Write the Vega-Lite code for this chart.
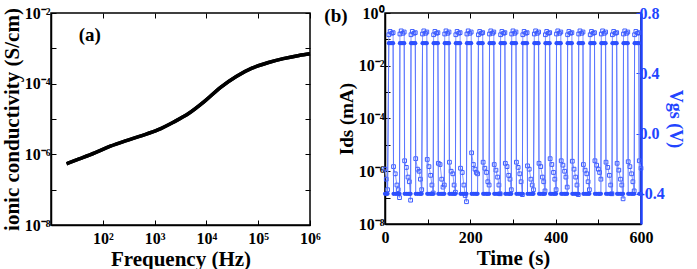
{
"$schema":"https://vega.github.io/schema/vega-lite/v6.json",
"padding":{"left":0,"top":4,"right":0,"bottom":0},
"spacing":75,
"bounds":"flush",
"config":{
 "font":"Liberation Serif",
 "view":{"stroke":"black","strokeWidth":1.5},
 "axis":{"labelFont":"Liberation Serif","labelFontWeight":"bold","labelFontSize":16,"labelColor":"black","titleFont":"Liberation Serif","titleFontWeight":"bold","titleFontSize":19,"titleColor":"black","domainColor":"black","domainWidth":1.5,"tickColor":"black","tickWidth":1,"grid":false,"labelOverlap":false,"labelFlush":false}
},
"datasets":{
 "cond":[
  {"f":20,"s":5.4e-7},{"f":35,"s":7.4e-7},{"f":70,"s":1.1e-6},{"f":140,"s":1.7e-6},{"f":285,"s":2.45e-6},{"f":570,"s":3.4e-6},{"f":1150,"s":4.9e-6},{"f":2300,"s":8.1e-6},{"f":4600,"s":1.45e-5},{"f":9300,"s":3.2e-5},{"f":18800,"s":7.9e-5},{"f":37700,"s":1.6e-4},{"f":75700,"s":2.75e-4},{"f":152000,"s":3.9e-4},{"f":305000,"s":5.1e-4},{"f":614000,"s":6.3e-4},{"f":1000000,"s":7.0e-4}
 ],
 "sw":[
  {"t":0,"v":-0.4,"i":1.2e-6},{"t":3,"v":-0.4,"i":5e-7},{"t":6,"v":-0.4,"i":2e-7},
  {"t":9,"v":0.6,"i":0.15},{"t":12,"v":0.6,"i":0.2},{"t":16,"v":0.6,"i":0.17},{"t":19,"v":0.6,"i":0.18},{"t":20,"v":-0.4,"i":1.5e-6},{"t":24,"v":-0.4,"i":8e-7},{"t":28,"v":-0.4,"i":3e-7},{"t":31,"v":-0.4,"i":2e-7},{"t":34,"v":-0.4,"i":1e-7},
  {"t":35,"v":0.6,"i":0.16},{"t":38,"v":0.6,"i":0.21},{"t":42,"v":0.6,"i":0.17},{"t":45,"v":0.6,"i":0.19},{"t":46,"v":-0.4,"i":2.5e-6},{"t":50,"v":-0.4,"i":1.4e-6},{"t":54,"v":-0.4,"i":6e-7},{"t":57,"v":-0.4,"i":4e-7},{"t":60,"v":-0.4,"i":8e-8},
  {"t":61,"v":0.6,"i":0.15},{"t":64,"v":0.6,"i":0.2},{"t":68,"v":0.6,"i":0.17},{"t":71,"v":0.6,"i":0.18},{"t":72,"v":-0.4,"i":3e-6},{"t":76,"v":-0.4,"i":1.2e-6},{"t":80,"v":-0.4,"i":1e-6},{"t":83,"v":-0.4,"i":5e-7},{"t":86,"v":-0.4,"i":2e-7},
  {"t":88,"v":0.6,"i":0.16},{"t":91,"v":0.6,"i":0.21},{"t":95,"v":0.6,"i":0.17},{"t":98,"v":0.6,"i":0.19},{"t":99,"v":-0.4,"i":2.8e-6},{"t":103,"v":-0.4,"i":1.5e-6},{"t":107,"v":-0.4,"i":7e-7},{"t":110,"v":-0.4,"i":3e-7},{"t":113,"v":-0.4,"i":1.5e-7},
  {"t":114,"v":0.6,"i":0.15},{"t":117,"v":0.6,"i":0.2},{"t":121,"v":0.6,"i":0.17},{"t":124,"v":0.6,"i":0.18},{"t":125,"v":-0.4,"i":2e-6},{"t":129,"v":-0.4,"i":1.8e-6},{"t":133,"v":-0.4,"i":5e-7},{"t":136,"v":-0.4,"i":2.5e-7},{"t":139,"v":-0.4,"i":3e-7},
  {"t":140,"v":0.6,"i":0.16},{"t":143,"v":0.6,"i":0.21},{"t":147,"v":0.6,"i":0.17},{"t":150,"v":0.6,"i":0.19},{"t":151,"v":-0.4,"i":2.2e-6},{"t":155,"v":-0.4,"i":1e-6},{"t":159,"v":-0.4,"i":8e-7},{"t":162,"v":-0.4,"i":3e-7},{"t":165,"v":-0.4,"i":1.6e-7},
  {"t":166,"v":0.6,"i":0.15},{"t":169,"v":0.6,"i":0.2},{"t":173,"v":0.6,"i":0.17},{"t":176,"v":0.6,"i":0.18},{"t":177,"v":-0.4,"i":1.3e-6},{"t":181,"v":-0.4,"i":9e-7},{"t":185,"v":-0.4,"i":3e-7},{"t":188,"v":-0.4,"i":1.2e-7},{"t":191,"v":-0.4,"i":7e-8},
  {"t":192,"v":0.6,"i":0.16},{"t":195,"v":0.6,"i":0.21},{"t":199,"v":0.6,"i":0.17},{"t":202,"v":0.6,"i":0.19},{"t":203,"v":-0.4,"i":5e-6},{"t":207,"v":-0.4,"i":1.8e-6},{"t":211,"v":-0.4,"i":1.2e-6},{"t":214,"v":-0.4,"i":9e-7},{"t":217,"v":-0.4,"i":8e-7},
  {"t":219,"v":0.6,"i":0.15},{"t":222,"v":0.6,"i":0.2},{"t":226,"v":0.6,"i":0.17},{"t":229,"v":0.6,"i":0.18},{"t":230,"v":-0.4,"i":2.2e-6},{"t":234,"v":-0.4,"i":1.3e-6},{"t":238,"v":-0.4,"i":9e-7},{"t":241,"v":-0.4,"i":4e-7},{"t":244,"v":-0.4,"i":3e-7},
  {"t":245,"v":0.6,"i":0.16},{"t":248,"v":0.6,"i":0.21},{"t":252,"v":0.6,"i":0.17},{"t":255,"v":0.6,"i":0.19},{"t":256,"v":-0.4,"i":1.8e-6},{"t":260,"v":-0.4,"i":1.1e-6},{"t":264,"v":-0.4,"i":6e-7},{"t":267,"v":-0.4,"i":3e-7},{"t":270,"v":-0.4,"i":1.4e-7},
  {"t":271,"v":0.6,"i":0.15},{"t":274,"v":0.6,"i":0.2},{"t":278,"v":0.6,"i":0.17},{"t":281,"v":0.6,"i":0.18},{"t":282,"v":-0.4,"i":2e-6},{"t":286,"v":-0.4,"i":1.5e-6},{"t":290,"v":-0.4,"i":7e-7},{"t":293,"v":-0.4,"i":5e-7},{"t":296,"v":-0.4,"i":2e-7},
  {"t":297,"v":0.6,"i":0.16},{"t":300,"v":0.6,"i":0.21},{"t":304,"v":0.6,"i":0.17},{"t":307,"v":0.6,"i":0.19},{"t":308,"v":-0.4,"i":2.2e-6},{"t":312,"v":-0.4,"i":1.4e-6},{"t":316,"v":-0.4,"i":8e-7},{"t":319,"v":-0.4,"i":4e-7},{"t":322,"v":-0.4,"i":1.3e-7},
  {"t":323,"v":0.6,"i":0.15},{"t":326,"v":0.6,"i":0.2},{"t":330,"v":0.6,"i":0.17},{"t":333,"v":0.6,"i":0.18},{"t":334,"v":-0.4,"i":1.6e-6},{"t":338,"v":-0.4,"i":1.2e-6},{"t":342,"v":-0.4,"i":5e-7},{"t":345,"v":-0.4,"i":3e-7},{"t":348,"v":-0.4,"i":2e-7},
  {"t":350,"v":0.6,"i":0.16},{"t":353,"v":0.6,"i":0.21},{"t":357,"v":0.6,"i":0.17},{"t":360,"v":0.6,"i":0.19},{"t":361,"v":-0.4,"i":2e-6},{"t":365,"v":-0.4,"i":1.5e-6},{"t":369,"v":-0.4,"i":6e-7},{"t":372,"v":-0.4,"i":4e-7},{"t":375,"v":-0.4,"i":1.8e-7},
  {"t":376,"v":0.6,"i":0.15},{"t":379,"v":0.6,"i":0.2},{"t":383,"v":0.6,"i":0.17},{"t":386,"v":0.6,"i":0.18},{"t":387,"v":-0.4,"i":3e-6},{"t":391,"v":-0.4,"i":1.8e-6},{"t":395,"v":-0.4,"i":9e-7},{"t":398,"v":-0.4,"i":5e-7},{"t":401,"v":-0.4,"i":2e-7},
  {"t":402,"v":0.6,"i":0.16},{"t":405,"v":0.6,"i":0.21},{"t":409,"v":0.6,"i":0.17},{"t":412,"v":0.6,"i":0.19},{"t":413,"v":-0.4,"i":2.5e-6},{"t":417,"v":-0.4,"i":1.7e-6},{"t":421,"v":-0.4,"i":1e-6},{"t":424,"v":-0.4,"i":6e-7},{"t":427,"v":-0.4,"i":2.5e-7},
  {"t":428,"v":0.6,"i":0.15},{"t":431,"v":0.6,"i":0.2},{"t":435,"v":0.6,"i":0.17},{"t":438,"v":0.6,"i":0.18},{"t":439,"v":-0.4,"i":2.4e-6},{"t":443,"v":-0.4,"i":1.2e-6},{"t":447,"v":-0.4,"i":6e-7},{"t":450,"v":-0.4,"i":3e-7},{"t":453,"v":-0.4,"i":1.3e-7},
  {"t":454,"v":0.6,"i":0.16},{"t":457,"v":0.6,"i":0.21},{"t":461,"v":0.6,"i":0.17},{"t":464,"v":0.6,"i":0.19},{"t":465,"v":-0.4,"i":1.8e-6},{"t":469,"v":-0.4,"i":1.1e-6},{"t":473,"v":-0.4,"i":8e-7},{"t":476,"v":-0.4,"i":4e-7},{"t":479,"v":-0.4,"i":2e-7},
  {"t":481,"v":0.6,"i":0.15},{"t":484,"v":0.6,"i":0.2},{"t":488,"v":0.6,"i":0.17},{"t":491,"v":0.6,"i":0.18},{"t":492,"v":-0.4,"i":2.5e-6},{"t":496,"v":-0.4,"i":1.7e-6},{"t":500,"v":-0.4,"i":1.2e-6},{"t":503,"v":-0.4,"i":9e-7},{"t":506,"v":-0.4,"i":5e-7},
  {"t":507,"v":0.6,"i":0.16},{"t":510,"v":0.6,"i":0.21},{"t":514,"v":0.6,"i":0.17},{"t":517,"v":0.6,"i":0.19},{"t":518,"v":-0.4,"i":2.2e-6},{"t":522,"v":-0.4,"i":1.4e-6},{"t":526,"v":-0.4,"i":7e-7},{"t":529,"v":-0.4,"i":3e-7},{"t":532,"v":-0.4,"i":1.4e-7},
  {"t":533,"v":0.6,"i":0.15},{"t":536,"v":0.6,"i":0.2},{"t":540,"v":0.6,"i":0.17},{"t":543,"v":0.6,"i":0.18},{"t":544,"v":-0.4,"i":2e-6},{"t":548,"v":-0.4,"i":1.1e-6},{"t":552,"v":-0.4,"i":5e-7},{"t":555,"v":-0.4,"i":3e-7},{"t":558,"v":-0.4,"i":9e-8},
  {"t":559,"v":0.6,"i":0.16},{"t":562,"v":0.6,"i":0.21},{"t":566,"v":0.6,"i":0.17},{"t":569,"v":0.6,"i":0.19},{"t":570,"v":-0.4,"i":2.3e-6},{"t":574,"v":-0.4,"i":1.5e-6},{"t":578,"v":-0.4,"i":8e-7},{"t":581,"v":-0.4,"i":4e-7},{"t":584,"v":-0.4,"i":1.8e-7},
  {"t":585,"v":0.6,"i":0.15},{"t":588,"v":0.6,"i":0.2},{"t":592,"v":0.6,"i":0.17},{"t":595,"v":0.6,"i":0.18},{"t":596,"v":-0.4,"i":2.5e-6},{"t":600,"v":-0.4,"i":1.3e-6}
 ]
},
"hconcat":[
 {
  "width":259,"height":212,
  "data":{"name":"cond"},
  "layer":[
   {"mark":{"type":"line","color":"black","strokeWidth":3.5,"interpolate":"monotone"},
    "encoding":{
     "x":{"field":"f","type":"quantitative","scale":{"type":"log","domain":[20,1000000]},
      "axis":{"title":"Frequency (Hz)","values":[100,1000,10000,100000,1000000],"labelExpr":"datum.value==100?'10²':datum.value==1000?'10³':datum.value==10000?'10⁴':datum.value==100000?'10⁵':'10⁶'","tickSize":-5,"labelPadding":10,"titlePadding":2,"titleFontSize":21}},
     "y":{"field":"s","type":"quantitative","scale":{"type":"log","domain":[1e-8,0.01]},
      "axis":{"title":"ionic conductivity (S/cm)","titleFontSize":21,"values":[1e-8,1e-7,1e-6,1e-5,1e-4,1e-3,1e-2],"labelExpr":"datum.value==1e-8?'10⁻⁸':datum.value==1e-6?'10⁻⁶':datum.value==1e-4?'10⁻⁴':datum.value==1e-2?'10⁻²':''","tickSize":-5,"labelPadding":6,"titlePadding":2}}
    }},
   {"mark":{"type":"line","color":"black","strokeWidth":3.5,"interpolate":"monotone"},
    "encoding":{
     "x":{"field":"f","type":"quantitative","axis":{"orient":"top","title":null,"labels":false,"domain":false,"values":[100,1000,10000,100000,1000000],"tickSize":-5}},
     "y":{"field":"s","type":"quantitative","axis":{"orient":"right","title":null,"labels":false,"domain":false,"values":[1e-8,1e-7,1e-6,1e-5,1e-4,1e-3,1e-2],"tickSize":-5}}
    }},
   {"data":{"values":[{"f":56,"s":0.0024,"label":"(a)"}]},
    "mark":{"type":"text","font":"Liberation Serif","fontWeight":"bold","fontSize":19,"baseline":"middle","align":"center"},
    "encoding":{
     "x":{"field":"f","type":"quantitative","axis":null},
     "y":{"field":"s","type":"quantitative","axis":null},
     "text":{"field":"label"}
    }}
  ],
  "resolve":{"axis":{"x":"independent","y":"independent"}}
 },
 {
  "width":256,"height":211,
  "data":{"name":"sw"},
  "layer":[
   {"layer":[
    {"mark":{"type":"line","color":"#8a9cff","strokeWidth":1},
     "encoding":{
      "x":{"field":"t","type":"quantitative","scale":{"domain":[0,600]},
       "axis":{"title":"Time (s)","values":[0,100,200,300,400,500,600],"labelExpr":"datum.value%200==0?datum.label:''","tickSize":-5,"labelPadding":10,"titlePadding":2,"titleFontSize":21}},
      "y":{"field":"i","type":"quantitative","scale":{"type":"log","domain":[1e-8,1]},
       "axis":{"title":"Ids (mA)","values":[1e-8,1e-7,1e-6,1e-5,1e-4,1e-3,1e-2,1e-1,1],"labelExpr":"datum.value==1e-8?'10⁻⁸':datum.value==1e-6?'10⁻⁶':datum.value==1e-4?'10⁻⁴':datum.value==1e-2?'10⁻²':datum.value==1?'10⁰':''","tickSize":-5,"labelPadding":6,"titlePadding":2}}
     }},
    {"mark":{"type":"point","shape":"square","filled":false,"size":14,"color":"#3d5cff","strokeWidth":1,"opacity":1},
     "encoding":{"x":{"field":"t","type":"quantitative"},"y":{"field":"i","type":"quantitative"}}},
    {"data":{"values":[{"t":-115,"i":0.75,"label":"(b)"}]},
     "mark":{"type":"text","font":"Liberation Serif","fontWeight":"bold","fontSize":19,"baseline":"middle","align":"center"},
     "encoding":{"x":{"field":"t","type":"quantitative"},"y":{"field":"i","type":"quantitative"},"text":{"field":"label"}}}
   ]},
   {"layer":[
    {"mark":{"type":"line","color":"#5a76ff","strokeWidth":1},
     "encoding":{
      "x":{"field":"t","type":"quantitative","axis":{"orient":"top","title":null,"labels":false,"domain":false,"values":[0,100,200,300,400,500,600],"tickSize":-5}},
      "y":{"field":"v","type":"quantitative","scale":{"domain":[-0.6,0.8]},
       "axis":{"orient":"right","title":"Vgs (V)","values":[-0.4,0,0.4,0.8],"format":".1f","labelExpr":"replace(datum.label,'−','-')","tickSize":-5,"labelPadding":3,"titlePadding":1,"titleFontSize":18,"domainColor":"#2244ff","domainWidth":2.5,"tickColor":"#2244ff","labelColor":"#2244ff","titleColor":"#2244ff"}}
     }},
    {"mark":{"type":"circle","size":18,"color":"#2c4fff","opacity":1},
     "encoding":{"x":{"field":"t","type":"quantitative"},"y":{"field":"v","type":"quantitative"}}}
   ]}
  ],
  "resolve":{"scale":{"y":"independent"},"axis":{"x":"independent","y":"independent"}}
 }
]
}
